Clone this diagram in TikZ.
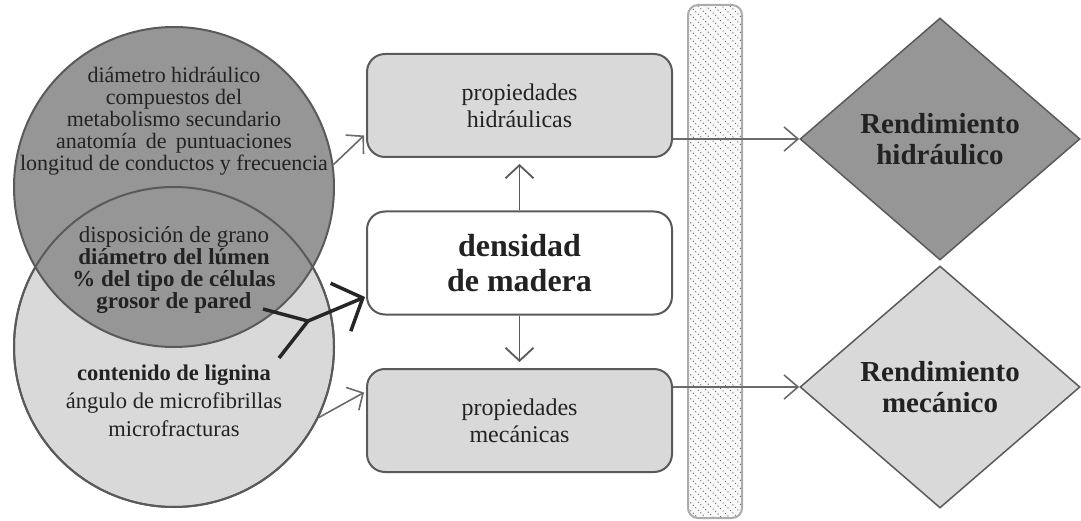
\documentclass[tikz,border=0pt]{standalone}
\usepackage{fontspec}
\setmainfont{Liberation Serif}
\usetikzlibrary{arrows.meta,shapes.geometric}
\definecolor{outl}{HTML}{5A5A5A}
\definecolor{darkfill}{HTML}{969696}
\definecolor{lightfill}{HTML}{D9D9D9}
\definecolor{txt}{HTML}{222222}
\definecolor{thin}{HTML}{6A6A6A}
\definecolor{hatch}{HTML}{6A6A6A}
\tikzset{
  circ/.style={circle, minimum size=320pt, inner sep=0pt, draw=outl, line width=2pt},
  pbox/.style={rectangle, rounded corners=18pt, minimum width=305pt, minimum height=103pt, draw=outl, line width=2pt, text=txt, align=center, inner sep=0pt},
  dia/.style={diamond, minimum width=280pt, minimum height=242pt, inner sep=0pt, draw=outl, line width=1.5pt, text=txt, align=center},
  ctext/.style={text=txt, align=center, inner sep=0pt},
  thinarrow/.style={draw=thin, line width=1.6pt, -{Straight Barb[length=12pt,width=26pt,line width=1.6pt]}},
  vertarrow/.style={draw=outl, line width=1.8pt, -{Straight Barb[length=13pt,width=28pt,line width=1.8pt]}},
  rarrow/.style={draw=thin, line width=1.6pt, -{Straight Barb[length=14pt,width=24pt,line width=1.6pt]}},
  blackline/.style={draw=black!85, line width=3.5pt},
  bigarrow/.style={blackline, -{Straight Barb[length=24pt,width=52pt,line width=3.5pt]}},
}
\begin{document}
\begin{tikzpicture}[x=1pt,y=-1pt]
\useasboundingbox (0,0) rectangle (1081,521);
% hatched bar
\begin{scope}
\clip[rounded corners=10pt] (688,5) rectangle (742,518);
\fill[gray!5] (688,5) rectangle (742,518);
\foreach \i in {-60,-52,...,520}
  \draw[hatch, line width=1pt, dash pattern=on 1pt off 2.5pt] (688,\i) -- (742,\i+54);
\end{scope}
\draw[gray!65, line width=2pt, rounded corners=10pt] (688,5) rectangle (742,518);
% circles
\node[circ, fill=lightfill] (c2) at (174,347) {};
\node[circ, fill=darkfill] (c1) at (174,187) {};
\draw[outl, line width=2pt] (c2.center) circle[radius=160pt];
% circle texts
\node[ctext, font=\fontsize{22}{22}\selectfont] (t1) at (174,121) {diámetro hidráulico\\compuestos del\\metabolismo secundario\\anatomía\, de\, puntuaciones\\longitud de conductos y frecuencia};
\node[ctext, font=\fontsize{23}{22}\selectfont] (t2) at (174,270) {disposición de grano\\\textbf{diámetro del lúmen}\\\textbf{\% del tipo de células}\\\textbf{grosor de pared}};
\node[ctext, font=\fontsize{22.5}{28}\selectfont] (t3) at (174,401) {\textbf{contenido de lignina}\\ángulo de microfibrillas\\microfracturas};
% boxes
\node[pbox, fill=lightfill, font=\fontsize{24}{27}\selectfont] (hyd) at (519.5,105.5) {propiedades\\hidráulicas};
\node[pbox, fill=white, font=\fontsize{32}{35}\selectfont\bfseries] (dens) at (519.5,263) {densidad\\de madera};
\node[pbox, fill=lightfill, font=\fontsize{24}{27}\selectfont] (mec) at (519.5,420.5) {propiedades\\mecánicas};
% diamonds
\node[dia, fill=darkfill, font=\fontsize{29}{31}\selectfont\bfseries] (d1) at (940,139) {Rendimiento\\hidráulico};
\node[dia, fill=lightfill, font=\fontsize{29}{31}\selectfont\bfseries] (d2) at (940,387) {Rendimiento\\mecánico};
% arrows
\draw[vertarrow, shorten >=6pt] (dens.north) -- (hyd.south);
\draw[vertarrow, shorten >=6pt] (dens.south) -- (mec.north);
\draw[rarrow] (hyd.east |- d1.west) -- (d1.west);
\draw[rarrow] (mec.east |- d2.west) -- (d2.west);
\draw[thinarrow] (c1.8) -- ([yshift=-30pt,xshift=-2pt]hyd.west);
\draw[thinarrow] (c2.-26) -- ([yshift=28pt,xshift=-2pt]mec.west);
\coordinate (b1) at (263,309);
\coordinate (b2) at (279,358);
\coordinate (j) at (308,321);
\draw[blackline] (b1) -- (j);
\draw[blackline] (b2) -- (j);
\draw[bigarrow] (j) -- ([yshift=-34pt,xshift=-1pt]dens.west);
\end{tikzpicture}
\end{document}
